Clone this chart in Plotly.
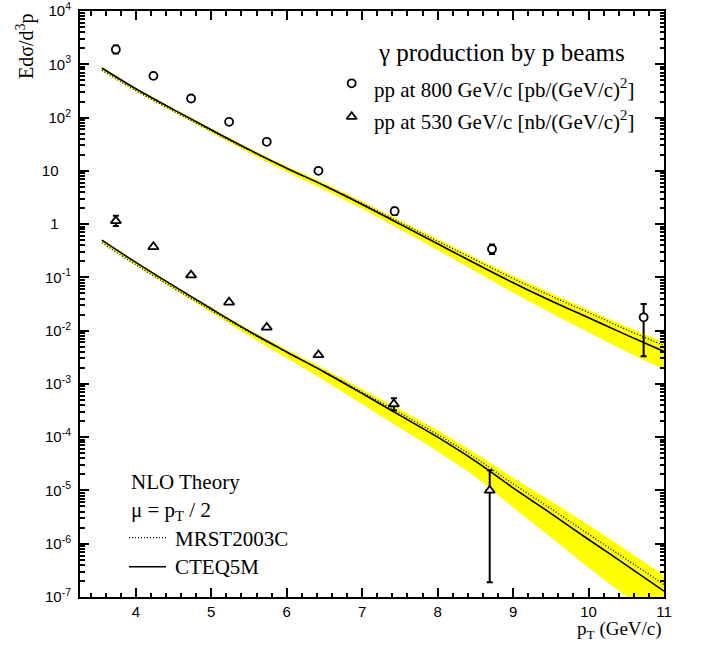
import plotly.graph_objects as go

# ---------------- data ----------------
PT_THEORY = [3.55, 4.0, 4.5, 5.0, 5.5, 6.0, 6.5, 7.0, 7.5, 8.0, 8.5, 9.0, 9.5, 10.0, 10.5, 11.0]

CTEQ_800 = [851, 347, 141, 58.9, 25.1, 11.2, 5.25, 2.34, 1.00, 0.427, 0.182, 0.0794, 0.0363, 0.0174, 0.00832, 0.00407]
MRST_800 = [776, 320, 132, 55.6, 24.3, 11.1, 5.31, 2.45, 1.08, 0.479, 0.214, 0.0955, 0.0447, 0.0219, 0.0105, 0.00525]
BAND_800_HI = [891, 363, 148, 62.4, 26.9, 12.2, 5.82, 2.66, 1.17, 0.525, 0.234, 0.107, 0.0501, 0.0245, 0.0120, 0.00603]
BAND_800_LO = [776, 313, 127, 52.5, 21.9, 9.55, 4.37, 1.91, 0.794, 0.324, 0.129, 0.0513, 0.0214, 0.00933, 0.00407, 0.00186]

CTEQ_530 = [0.501, 0.191, 0.0692, 0.0257, 0.00977, 0.00398, 0.00166, 6.61e-4, 2.57e-4, 1.0e-4, 3.55e-5, 1.12e-5, 3.72e-6, 1.20e-6, 3.98e-7, 1.29e-7]
MRST_530 = [0.447, 0.172, 0.0631, 0.0240, 0.00933, 0.00394, 0.00170, 7.0e-4, 2.82e-4, 1.12e-4, 4.07e-5, 1.33e-5, 4.57e-6, 1.51e-6, 5.13e-7, 1.70e-7]
BAND_530_HI = [0.525, 0.200, 0.0724, 0.0272, 0.0105, 0.00437, 0.00191, 7.94e-4, 3.31e-4, 1.35e-4, 5.01e-5, 1.74e-5, 6.31e-6, 2.24e-6, 7.59e-7, 2.51e-7]
BAND_530_LO = [0.447, 0.170, 0.0603, 0.0219, 0.00794, 0.00302, 0.00115, 4.17e-4, 1.48e-4, 5.37e-5, 1.78e-5, 4.79e-6, 1.32e-6, 3.55e-7, 1.02e-7, 2.95e-8]

PT_800 = [3.735, 4.233, 4.732, 5.236, 5.735, 6.42, 7.43, 8.72, 10.73]
Y_800 = [1897, 606, 228, 83, 35.0, 10.0, 1.75, 0.34, 0.0178]
ERR_800_UP = [363, 0, 0, 0, 0, 0, 0.27, 0.076, 0.0138]
ERR_800_DN = [297, 0, 0, 0, 0, 0, 0.27, 0.066, 0.0145]

PT_530 = [3.735, 4.233, 4.732, 5.236, 5.735, 6.42, 7.42, 8.69]
Y_530 = [1.15, 0.375, 0.110, 0.034, 0.0115, 0.0035, 4.2e-4, 1.0e-5]
ERR_530_UP = [0.28, 0, 0, 0, 0, 0, 1.2e-4, 1.4e-5]
ERR_530_DN = [0.23, 0, 0, 0, 0, 0, 1.0e-4, 9.81e-6]

Y_TICK_VALS = [1e-7, 1e-6, 1e-5, 1e-4, 1e-3, 1e-2, 1e-1, 1, 10, 1e2, 1e3, 1e4]
NB = "\u00a0"
Y_TICK_TEXT = ["10<sup>-7</sup>", "10<sup>-6</sup>", "10<sup>-5</sup>", "10<sup>-4</sup>",
               "10<sup>-3</sup>", "10<sup>-2</sup>", "10<sup>-1</sup>", "1" + NB * 3,
               "10" + NB * 3, "10<sup>2</sup>", "10<sup>3</sup>", "10<sup>4</sup>"]
Y_MINOR_VALS = [k * 10.0 ** e for e in range(-7, 4) for k in range(2, 10)]

SERIF = "Liberation Serif"
SANS = "Liberation Sans"
YELLOW = "#ffff00"

fig = go.Figure()

# theory bands, lines
for lo, hi in [(BAND_800_LO, BAND_800_HI), (BAND_530_LO, BAND_530_HI)]:
    fig.add_trace(go.Scatter(x=PT_THEORY, y=lo, mode="lines", line=dict(width=0, shape="spline", color=YELLOW),
                             showlegend=False, hoverinfo="skip"))
    fig.add_trace(go.Scatter(x=PT_THEORY, y=hi, mode="lines", line=dict(width=0, shape="spline", color=YELLOW),
                             fill="tonexty", fillcolor=YELLOW, showlegend=False, hoverinfo="skip"))
for cteq, mrst in [(CTEQ_800, MRST_800), (CTEQ_530, MRST_530)]:
    fig.add_trace(go.Scatter(x=PT_THEORY, y=mrst, mode="lines",
                             line=dict(color="black", width=1.3, dash="1px,2px", shape="spline"), showlegend=False))
    fig.add_trace(go.Scatter(x=PT_THEORY, y=cteq, mode="lines",
                             line=dict(color="black", width=1.6, shape="spline"), showlegend=False))

# data points
fig.add_trace(go.Scatter(
    x=PT_800, y=Y_800, mode="markers",
    marker=dict(symbol="circle", size=8, color="white", line=dict(color="black", width=1.8)),
    error_y=dict(type="data", array=ERR_800_UP, arrayminus=ERR_800_DN, color="black", thickness=2, width=3),
    showlegend=False))
fig.add_trace(go.Scatter(
    x=PT_530, y=Y_530, mode="markers",
    marker=dict(symbol="triangle-up", size=9, color="white", line=dict(color="black", width=1.8)),
    error_y=dict(type="data", array=ERR_530_UP, arrayminus=ERR_530_DN, color="black", thickness=2, width=3),
    showlegend=False))

# legend symbols on an overlay axis with [0,1] ranges
fig.add_trace(go.Scatter(x=[0.4652], y=[0.8766], mode="markers", xaxis="x2", yaxis="y2",
                         marker=dict(symbol="circle", size=8, color="white", line=dict(color="black", width=1.8)),
                         showlegend=False))
fig.add_trace(go.Scatter(x=[0.4652], y=[0.8196], mode="markers", xaxis="x2", yaxis="y2",
                         marker=dict(symbol="triangle-up", size=9, color="white", line=dict(color="black", width=1.8)),
                         showlegend=False))
fig.add_trace(go.Scatter(x=[0.0839, 0.1473], y=[0.1012, 0.1012], mode="lines", xaxis="x2", yaxis="y2",
                         line=dict(color="black", width=1.3, dash="1px,2px"), showlegend=False))
fig.add_trace(go.Scatter(x=[0.0839, 0.1473], y=[0.0517, 0.0517], mode="lines", xaxis="x2", yaxis="y2",
                         line=dict(color="black", width=1.6), showlegend=False))


def ann(text, x, y, size, xanchor="left", yanchor="middle", angle=0):
    fig.add_annotation(text=text, x=x, y=y, xref="paper", yref="paper", xanchor=xanchor, yanchor=yanchor,
                       showarrow=False, textangle=angle, font=dict(family=SERIF, size=size, color="black"))


ann("\u03b3 production by p beams", 0.5068, 0.930, 25)
ann("pp at 800 GeV/c [pb/(GeV/c)<sup>2</sup>]", 0.50, 0.8686, 21)
ann("pp at 530 GeV/c [nb/(GeV/c)<sup>2</sup>]", 0.50, 0.8123, 21)
ann("NLO Theory", 0.0839, 0.1962, 21)
ann("\u03bc = p<sub>T</sub> / 2", 0.0839, 0.1468, 21)
ann("MRST2003C", 0.1587, 0.0998, 21)
ann("CTEQ5M", 0.1587, 0.0512, 21)
ann("Ed\u03c3/d<sup>3</sup>p", -0.0942, 1.0, 20, xanchor="center", yanchor="top", angle=-90)
ann("p<sub>T</sub> (GeV/c)", 1.0, -0.0563, 19, xanchor="right")

axis_common = dict(showgrid=False, zeroline=False, showline=True, linecolor="black", linewidth=2,
                   ticks="inside", ticklen=9, tickwidth=2, tickcolor="black", mirror="ticks",
                   automargin=False, ticklabeloverflow="allow")

fig.update_layout(
    width=702, height=647,
    margin=dict(l=80, r=38, t=11, b=50),
    paper_bgcolor="white", plot_bgcolor="white",
    showlegend=False,
    xaxis=dict(range=[3.26, 11], tickmode="linear", tick0=0, dtick=1,
               tickfont=dict(family=SANS, size=15, color="black"),
               minor=dict(ticks="inside", dtick=0.2, tick0=0, ticklen=4.5, tickwidth=1.5, tickcolor="black"),
               **axis_common),
    yaxis=dict(type="log", range=[-7, 4], tickmode="array", tickvals=Y_TICK_VALS, ticktext=Y_TICK_TEXT,
               tickfont=dict(family=SANS, size=15, color="black"), ticklabelstandoff=4,
               minor=dict(ticks="inside", tickmode="array", tickvals=Y_MINOR_VALS, ticklen=4.5,
                          tickwidth=1.5, tickcolor="black"),
               **axis_common),
    xaxis2=dict(overlaying="x", range=[0, 1], visible=False, anchor="y2"),
    yaxis2=dict(overlaying="y", range=[0, 1], visible=False, anchor="x2"),
)

fig.write_html("out.html")
